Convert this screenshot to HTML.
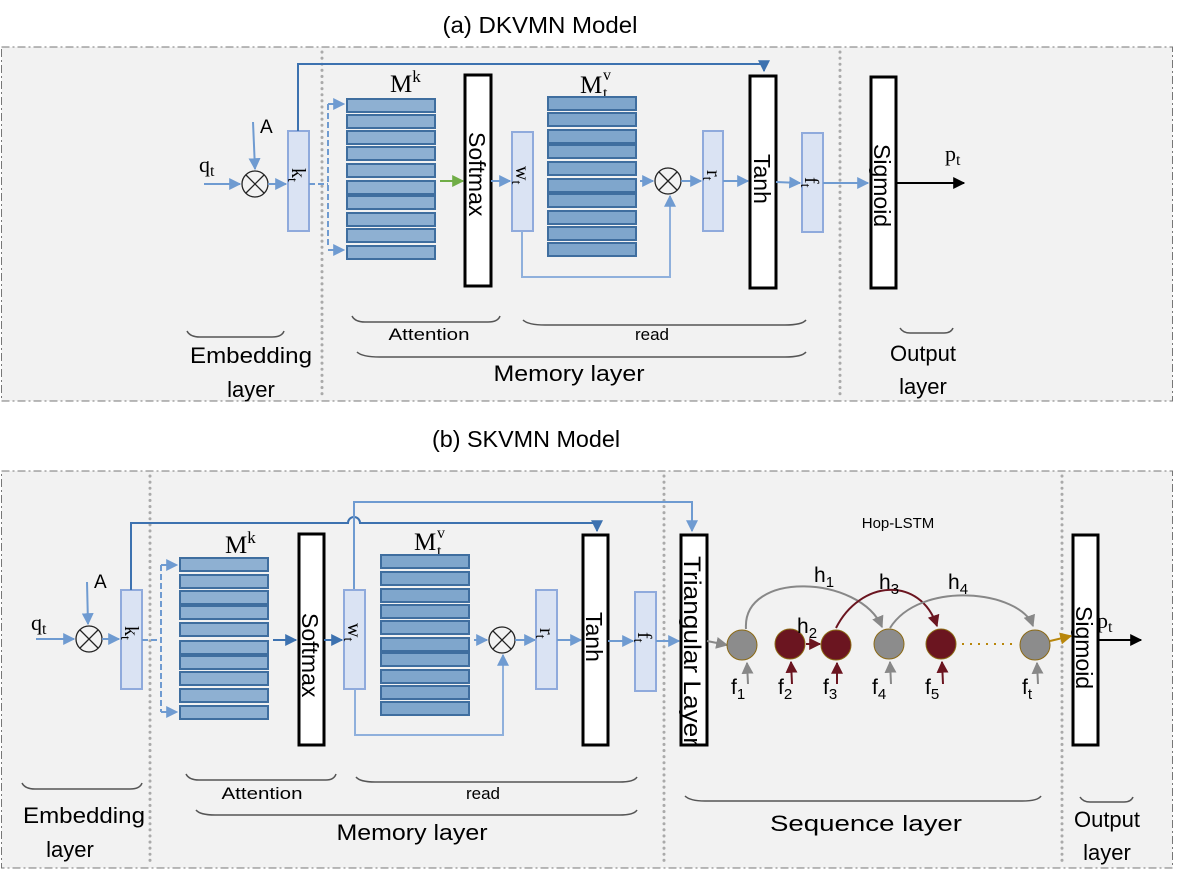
<!DOCTYPE html>
<html><head><meta charset="utf-8"><style>
html,body{margin:0;padding:0;background:#fff}
svg{display:block}
text{font-family:"Liberation Sans",sans-serif}
.s{font-family:"Liberation Serif",serif}
</style></head><body>
<svg width="1185" height="877" viewBox="0 0 1185 877" xmlns="http://www.w3.org/2000/svg">
<defs>
<marker id="ab" viewBox="0 0 10 10" refX="9" refY="5" markerWidth="6" markerHeight="6" orient="auto"><path d="M0,0 L10,5 L0,10 z" fill="#6f9bd1"/></marker>
<marker id="ad" viewBox="0 0 10 10" refX="9" refY="5" markerWidth="6" markerHeight="6" orient="auto"><path d="M0,0 L10,5 L0,10 z" fill="#3d72b0"/></marker>
<marker id="ag" viewBox="0 0 10 10" refX="9" refY="5" markerWidth="6" markerHeight="6" orient="auto"><path d="M0,0 L10,5 L0,10 z" fill="#70ad47"/></marker>
<marker id="ak" viewBox="0 0 10 10" refX="9" refY="5" markerWidth="6" markerHeight="6" orient="auto"><path d="M0,0 L10,5 L0,10 z" fill="#000"/></marker>
<marker id="agr" viewBox="0 0 10 10" refX="9" refY="5" markerWidth="6" markerHeight="6" orient="auto"><path d="M0,0 L10,5 L0,10 z" fill="#888"/></marker>
<marker id="ar" viewBox="0 0 10 10" refX="9" refY="5" markerWidth="6" markerHeight="6" orient="auto"><path d="M0,0 L10,5 L0,10 z" fill="#6b1520"/></marker>
<marker id="ao" viewBox="0 0 10 10" refX="9" refY="5" markerWidth="6" markerHeight="6" orient="auto"><path d="M0,0 L10,5 L0,10 z" fill="#b8860b"/></marker>
</defs>

<!-- panels -->
<text x="540" y="33" font-size="23" text-anchor="middle" textLength="195" lengthAdjust="spacingAndGlyphs">(a) DKVMN Model</text>
<rect x="1.5" y="47" width="1171" height="354" fill="#f2f2f2" stroke="#777" stroke-dasharray="8,3,2,3"/>
<text x="526" y="447" font-size="23" text-anchor="middle" textLength="188" lengthAdjust="spacingAndGlyphs">(b) SKVMN Model</text>
<rect x="1.5" y="471" width="1171" height="397" fill="#f2f2f2" stroke="#777" stroke-dasharray="8,3,2,3"/>

<g stroke="#aaa" stroke-width="3" stroke-dasharray="0.1,6" stroke-linecap="round" fill="none">
<line x1="322" y1="52" x2="322" y2="398"/><line x1="840" y1="52" x2="840" y2="398"/>
<line x1="150" y1="476" x2="150" y2="865"/><line x1="664" y1="476" x2="664" y2="865"/><line x1="1062" y1="476" x2="1062" y2="865"/>
</g>

<!-- ============ (a) ============ -->
<text x="199" y="172" class="s" font-size="22">q<tspan font-size="16" dy="4">t</tspan></text>
<line x1="204" y1="184" x2="240" y2="184" stroke="#6f9bd1" stroke-width="2" marker-end="url(#ab)"/>
<circle cx="255" cy="184" r="13" fill="none" stroke="#222" stroke-width="1.3"/>
<path d="M246,175 L264,193 M264,175 L246,193" stroke="#222" stroke-width="1.3"/>
<text x="260" y="133" font-size="19">A</text>
<line x1="253" y1="122" x2="255" y2="169" stroke="#6f9bd1" stroke-width="2" marker-end="url(#ab)"/>
<line x1="268" y1="184" x2="286" y2="184" stroke="#6f9bd1" stroke-width="2" marker-end="url(#ab)"/>
<rect x="288" y="131" width="21" height="100" fill="#dae3f3" stroke="#8faadc" stroke-width="2"/>
<text class="s" font-size="20" transform="translate(292,168) rotate(90)">k<tspan font-size="14" dy="4">t</tspan></text>
<path d="M298,131 V64 H764 V71" fill="none" stroke="#3d72b0" stroke-width="2" marker-end="url(#ad)"/>
<path d="M309,184 H328 M328,104 V247" stroke="#6f9bd1" stroke-width="2" stroke-dasharray="6,3" fill="none"/>
<line x1="328" y1="104" x2="344" y2="104" stroke="#6f9bd1" stroke-width="2" stroke-dasharray="6,3" marker-end="url(#ab)"/>
<line x1="328" y1="250" x2="344" y2="250" stroke="#6f9bd1" stroke-width="2" stroke-dasharray="6,3" marker-end="url(#ab)"/>

<text x="390" y="92" class="s" font-size="25">M<tspan font-size="17" dy="-10">k</tspan></text>
<g fill="#8eb0d2" stroke="#3f6e9f" stroke-width="2">
<rect x="347" y="99" width="88" height="13"/><rect x="347" y="115" width="88" height="13"/><rect x="347" y="131" width="88" height="13"/><rect x="347" y="147" width="88" height="13"/><rect x="347" y="164" width="88" height="13"/><rect x="347" y="181" width="88" height="13"/><rect x="347" y="196" width="88" height="13"/><rect x="347" y="213" width="88" height="13"/><rect x="347" y="229" width="88" height="13"/><rect x="347" y="246" width="88" height="13"/>
</g>
<line x1="440" y1="181" x2="463" y2="181" stroke="#70ad47" stroke-width="2" marker-end="url(#ag)"/>
<rect x="465" y="75" width="26" height="211" fill="#fff" stroke="#000" stroke-width="3"/>
<text font-size="23" transform="translate(469,132) rotate(90)">Softmax</text>
<line x1="491" y1="181" x2="510" y2="181" stroke="#6f9bd1" stroke-width="2" marker-end="url(#ab)"/>
<rect x="512" y="132" width="21" height="99" fill="#dae3f3" stroke="#8faadc" stroke-width="2"/>
<text class="s" font-size="20" transform="translate(516,166) rotate(90)">w<tspan font-size="14" dy="4">t</tspan></text>

<text x="580" y="93" class="s" font-size="25">M</text><text x="603" y="80" class="s" font-size="16">v</text><text x="603" y="98" class="s" font-size="16">t</text>
<g fill="#7fa6cc" stroke="#3f6e9f" stroke-width="2">
<rect x="548" y="97" width="88" height="13"/><rect x="548" y="113" width="88" height="13"/><rect x="548" y="130" width="88" height="13"/><rect x="548" y="145" width="88" height="13"/><rect x="548" y="162" width="88" height="13"/><rect x="548" y="179" width="88" height="13"/><rect x="548" y="194" width="88" height="13"/><rect x="548" y="211" width="88" height="13"/><rect x="548" y="227" width="88" height="13"/><rect x="548" y="243" width="88" height="13"/>
</g>
<line x1="640" y1="181" x2="653" y2="181" stroke="#6f9bd1" stroke-width="2" marker-end="url(#ab)"/>
<circle cx="668" cy="181" r="13" fill="none" stroke="#222" stroke-width="1.3"/>
<path d="M659,172 L677,190 M677,172 L659,190" stroke="#222" stroke-width="1.3"/>
<path d="M522,231 V277 H670 V196" fill="none" stroke="#8fb0dc" stroke-width="2" marker-end="url(#ab)"/>
<line x1="681" y1="181" x2="701" y2="181" stroke="#6f9bd1" stroke-width="2" marker-end="url(#ab)"/>
<rect x="703" y="131" width="20" height="100" fill="#dae3f3" stroke="#8faadc" stroke-width="2"/>
<text class="s" font-size="20" transform="translate(707,170) rotate(90)">r<tspan font-size="14" dy="4">t</tspan></text>
<line x1="723" y1="181" x2="748" y2="181" stroke="#6f9bd1" stroke-width="2" marker-end="url(#ab)"/>
<rect x="750" y="76" width="26" height="212" fill="#fff" stroke="#000" stroke-width="3"/>
<text font-size="23" transform="translate(754,154) rotate(90)">Tanh</text>
<line x1="776" y1="182" x2="800" y2="183" stroke="#6f9bd1" stroke-width="2" marker-end="url(#ab)"/>
<rect x="802" y="133" width="21" height="99" fill="#dae3f3" stroke="#8faadc" stroke-width="2"/>
<text class="s" font-size="20" transform="translate(805,177) rotate(90)">f<tspan font-size="14" dy="4">t</tspan></text>
<line x1="823" y1="183" x2="868" y2="183" stroke="#6f9bd1" stroke-width="2" marker-end="url(#ab)"/>
<rect x="871" y="77" width="25" height="211" fill="#fff" stroke="#000" stroke-width="3"/>
<text font-size="23" transform="translate(874,144) rotate(90)">Sigmoid</text>
<line x1="896" y1="183" x2="964" y2="183" stroke="#000" stroke-width="2" marker-end="url(#ak)"/>
<text x="945" y="161" class="s" font-size="22">p<tspan font-size="16" dy="4">t</tspan></text>

<g fill="none" stroke="#555" stroke-width="1.5">
<path d="M187,331 Q190,337 200,337 H272 Q282,337 284,331"/>
<path d="M352,316 Q355,322 365,322 H488 Q498,322 500,316"/>
<path d="M523,320 Q528,325 545,325 H785 Q802,325 806,320"/>
<path d="M357,352 Q362,357 380,357 H785 Q802,357 806,352"/>
<path d="M900,328 Q903,333 910,333 H944 Q951,333 953,328"/>
</g>
<text x="251" y="363" font-size="22" text-anchor="middle" textLength="122" lengthAdjust="spacingAndGlyphs">Embedding</text>
<text x="251" y="397" font-size="22" text-anchor="middle">layer</text>
<text x="429" y="340" font-size="17" text-anchor="middle" textLength="81" lengthAdjust="spacingAndGlyphs">Attention</text>
<text x="652" y="340" font-size="17" text-anchor="middle">read</text>
<text x="569" y="381" font-size="22" text-anchor="middle" textLength="151" lengthAdjust="spacingAndGlyphs">Memory layer</text>
<text x="923" y="361" font-size="22" text-anchor="middle">Output</text>
<text x="923" y="394" font-size="22" text-anchor="middle">layer</text>

<!-- ============ (b) ============ -->
<text x="31" y="630" class="s" font-size="22">q<tspan font-size="16" dy="4">t</tspan></text>
<line x1="36" y1="639" x2="74" y2="639" stroke="#6f9bd1" stroke-width="2" marker-end="url(#ab)"/>
<circle cx="89" cy="639" r="13" fill="none" stroke="#222" stroke-width="1.3"/>
<path d="M80,630 L98,648 M98,630 L80,648" stroke="#222" stroke-width="1.3"/>
<text x="94" y="588" font-size="19">A</text>
<line x1="87" y1="582" x2="88" y2="624" stroke="#6f9bd1" stroke-width="2" marker-end="url(#ab)"/>
<line x1="102" y1="639" x2="119" y2="639" stroke="#6f9bd1" stroke-width="2" marker-end="url(#ab)"/>
<rect x="121" y="590" width="21" height="99" fill="#dae3f3" stroke="#8faadc" stroke-width="2"/>
<text class="s" font-size="20" transform="translate(125,626) rotate(90)">k<tspan font-size="14" dy="4">t</tspan></text>
<path d="M131,590 V523 H348 A6,6 0 0 1 360,523 H597 V531" fill="none" stroke="#3d72b0" stroke-width="2" marker-end="url(#ad)"/>
<path d="M354,590 V502 H692 V531" fill="none" stroke="#6f9bd1" stroke-width="2" marker-end="url(#ab)"/>
<path d="M142,640 H161 M161,565 V712" stroke="#6f9bd1" stroke-width="2" stroke-dasharray="6,3" fill="none"/>
<line x1="161" y1="565" x2="177" y2="565" stroke="#6f9bd1" stroke-width="2" stroke-dasharray="6,3" marker-end="url(#ab)"/>
<line x1="161" y1="712" x2="177" y2="712" stroke="#6f9bd1" stroke-width="2" stroke-dasharray="6,3" marker-end="url(#ab)"/>

<text x="225" y="553" class="s" font-size="25">M<tspan font-size="17" dy="-10">k</tspan></text>
<g fill="#8eb0d2" stroke="#3f6e9f" stroke-width="2">
<rect x="180" y="558" width="88" height="13"/><rect x="180" y="575" width="88" height="13"/><rect x="180" y="591" width="88" height="13"/><rect x="180" y="606" width="88" height="13"/><rect x="180" y="623" width="88" height="13"/><rect x="180" y="641" width="88" height="13"/><rect x="180" y="656" width="88" height="13"/><rect x="180" y="672" width="88" height="13"/><rect x="180" y="689" width="88" height="13"/><rect x="180" y="706" width="88" height="13"/>
</g>
<line x1="273" y1="640" x2="296" y2="640" stroke="#3d72b0" stroke-width="2" marker-end="url(#ad)"/>
<rect x="299" y="534" width="25" height="211" fill="#fff" stroke="#000" stroke-width="3"/>
<text font-size="23" transform="translate(302,613) rotate(90)">Softmax</text>
<line x1="324" y1="640" x2="342" y2="640" stroke="#3d72b0" stroke-width="2" marker-end="url(#ad)"/>
<rect x="344" y="590" width="21" height="99" fill="#dae3f3" stroke="#8faadc" stroke-width="2"/>
<text class="s" font-size="20" transform="translate(348,623) rotate(90)">w<tspan font-size="14" dy="4">t</tspan></text>

<text x="414" y="550" class="s" font-size="25">M</text><text x="437" y="538" class="s" font-size="16">v</text><text x="437" y="556" class="s" font-size="16">t</text>
<g fill="#7fa6cc" stroke="#3f6e9f" stroke-width="2">
<rect x="381" y="555" width="88" height="13"/><rect x="381" y="572" width="88" height="13"/><rect x="381" y="589" width="88" height="13"/><rect x="381" y="605" width="88" height="13"/><rect x="381" y="621" width="88" height="13"/><rect x="381" y="638" width="88" height="13"/><rect x="381" y="653" width="88" height="13"/><rect x="381" y="670" width="88" height="13"/><rect x="381" y="686" width="88" height="13"/><rect x="381" y="702" width="88" height="13"/>
</g>
<line x1="474" y1="640" x2="487" y2="640" stroke="#6f9bd1" stroke-width="2" marker-end="url(#ab)"/>
<circle cx="502" cy="640" r="13" fill="none" stroke="#222" stroke-width="1.3"/>
<path d="M493,631 L511,649 M511,631 L493,649" stroke="#222" stroke-width="1.3"/>
<path d="M355,689 V735 H503 V655" fill="none" stroke="#8fb0dc" stroke-width="2" marker-end="url(#ab)"/>
<line x1="515" y1="640" x2="535" y2="640" stroke="#6f9bd1" stroke-width="2" marker-end="url(#ab)"/>
<rect x="536" y="590" width="21" height="99" fill="#dae3f3" stroke="#8faadc" stroke-width="2"/>
<text class="s" font-size="20" transform="translate(540,628) rotate(90)">r<tspan font-size="14" dy="4">t</tspan></text>
<line x1="557" y1="640" x2="581" y2="640" stroke="#6f9bd1" stroke-width="2" marker-end="url(#ab)"/>
<rect x="583" y="535" width="25" height="210" fill="#fff" stroke="#000" stroke-width="3"/>
<text font-size="23" transform="translate(586,612) rotate(90)">Tanh</text>
<line x1="608" y1="641" x2="633" y2="641" stroke="#6f9bd1" stroke-width="2" marker-end="url(#ab)"/>
<rect x="635" y="592" width="21" height="99" fill="#dae3f3" stroke="#8faadc" stroke-width="2"/>
<text class="s" font-size="20" transform="translate(638,632) rotate(90)">f<tspan font-size="14" dy="4">t</tspan></text>
<line x1="656" y1="641" x2="679" y2="641" stroke="#6f9bd1" stroke-width="2" marker-end="url(#ab)"/>
<rect x="681" y="535" width="26" height="210" fill="#fff" stroke="#000" stroke-width="3"/>
<text font-size="24" transform="translate(684,556) rotate(90)" textLength="190" lengthAdjust="spacingAndGlyphs">Triangular Layer</text>

<text x="898" y="528" font-size="15" text-anchor="middle">Hop-LSTM</text>
<line x1="707" y1="641" x2="727" y2="645" stroke="#888" stroke-width="2" marker-end="url(#agr)"/>
<path d="M746,629 C742,570 860,575 882,627" fill="none" stroke="#888" stroke-width="2" marker-end="url(#agr)"/>
<path d="M836,628 C860,580 920,575 937,626" fill="none" stroke="#6b1520" stroke-width="2" marker-end="url(#ar)"/>
<path d="M890,628 C920,580 1020,590 1033,626" fill="none" stroke="#888" stroke-width="2" marker-end="url(#agr)"/>
<line x1="806" y1="644" x2="820" y2="644" stroke="#6b1520" stroke-width="2" marker-end="url(#ar)"/>
<line x1="962" y1="644" x2="1017" y2="644" stroke="#b8860b" stroke-width="2" stroke-dasharray="2,6"/>
<line x1="1050" y1="641" x2="1071" y2="636" stroke="#b8860b" stroke-width="2" marker-end="url(#ao)"/>
<g stroke="#8b6914" stroke-width="1">
<circle cx="742" cy="645" r="15" fill="#8c8c8c"/>
<circle cx="790" cy="644" r="15" fill="#6b1520"/>
<circle cx="836" cy="645" r="15" fill="#6b1520"/>
<circle cx="889" cy="644" r="15" fill="#8c8c8c"/>
<circle cx="941" cy="644" r="15" fill="#6b1520"/>
<circle cx="1035" cy="645" r="15" fill="#8c8c8c"/>
</g>
<g stroke-width="2">
<line x1="748" y1="684" x2="747" y2="663" stroke="#888" marker-end="url(#agr)"/>
<line x1="792" y1="684" x2="791" y2="662" stroke="#6b1520" marker-end="url(#ar)"/>
<line x1="837" y1="684" x2="837" y2="663" stroke="#6b1520" marker-end="url(#ar)"/>
<line x1="891" y1="684" x2="890" y2="662" stroke="#888" marker-end="url(#agr)"/>
<line x1="943" y1="684" x2="942" y2="662" stroke="#6b1520" marker-end="url(#ar)"/>
<line x1="1038" y1="684" x2="1037" y2="663" stroke="#888" marker-end="url(#agr)"/>
</g>
<g class="s" font-size="21">
<text x="731" y="694">f<tspan font-size="15" dy="5">1</tspan></text>
<text x="778" y="694">f<tspan font-size="15" dy="5">2</tspan></text>
<text x="823" y="694">f<tspan font-size="15" dy="5">3</tspan></text>
<text x="872" y="694">f<tspan font-size="15" dy="5">4</tspan></text>
<text x="925" y="694">f<tspan font-size="15" dy="5">5</tspan></text>
<text x="1022" y="694">f<tspan font-size="15" dy="5">t</tspan></text>
<text x="814" y="582">h<tspan font-size="15" dy="5">1</tspan></text>
<text x="797" y="633">h<tspan font-size="15" dy="5">2</tspan></text>
<text x="879" y="589">h<tspan font-size="15" dy="5">3</tspan></text>
<text x="948" y="589">h<tspan font-size="15" dy="5">4</tspan></text>
</g>
<rect x="1073" y="535" width="25" height="210" fill="#fff" stroke="#000" stroke-width="3"/>
<text font-size="23" transform="translate(1076,606) rotate(90)">Sigmoid</text>
<line x1="1098" y1="640" x2="1141" y2="640" stroke="#000" stroke-width="2" marker-end="url(#ak)"/>
<text x="1097" y="628" class="s" font-size="22">p<tspan font-size="16" dy="4">t</tspan></text>

<g fill="none" stroke="#555" stroke-width="1.5">
<path d="M22,783 Q25,789 35,789 H130 Q140,789 142,783"/>
<path d="M186,774 Q189,780 199,780 H326 Q334,780 336,774"/>
<path d="M356,777 Q360,782 375,782 H620 Q634,782 637,777"/>
<path d="M196,810 Q200,815 215,815 H620 Q634,815 637,810"/>
<path d="M685,796 Q690,801 705,801 H1022 Q1038,801 1041,796"/>
<path d="M1080,797 Q1083,802 1090,802 H1124 Q1131,802 1133,797"/>
</g>
<text x="84" y="823" font-size="22" text-anchor="middle" textLength="122" lengthAdjust="spacingAndGlyphs">Embedding</text>
<text x="70" y="857" font-size="22" text-anchor="middle">layer</text>
<text x="262" y="799" font-size="17" text-anchor="middle" textLength="81" lengthAdjust="spacingAndGlyphs">Attention</text>
<text x="483" y="799" font-size="17" text-anchor="middle">read</text>
<text x="412" y="840" font-size="22" text-anchor="middle" textLength="151" lengthAdjust="spacingAndGlyphs">Memory layer</text>
<text x="866" y="831" font-size="22" text-anchor="middle" textLength="192" lengthAdjust="spacingAndGlyphs">Sequence layer</text>
<text x="1107" y="827" font-size="22" text-anchor="middle">Output</text>
<text x="1107" y="860" font-size="22" text-anchor="middle">layer</text>
</svg>
</body></html>
